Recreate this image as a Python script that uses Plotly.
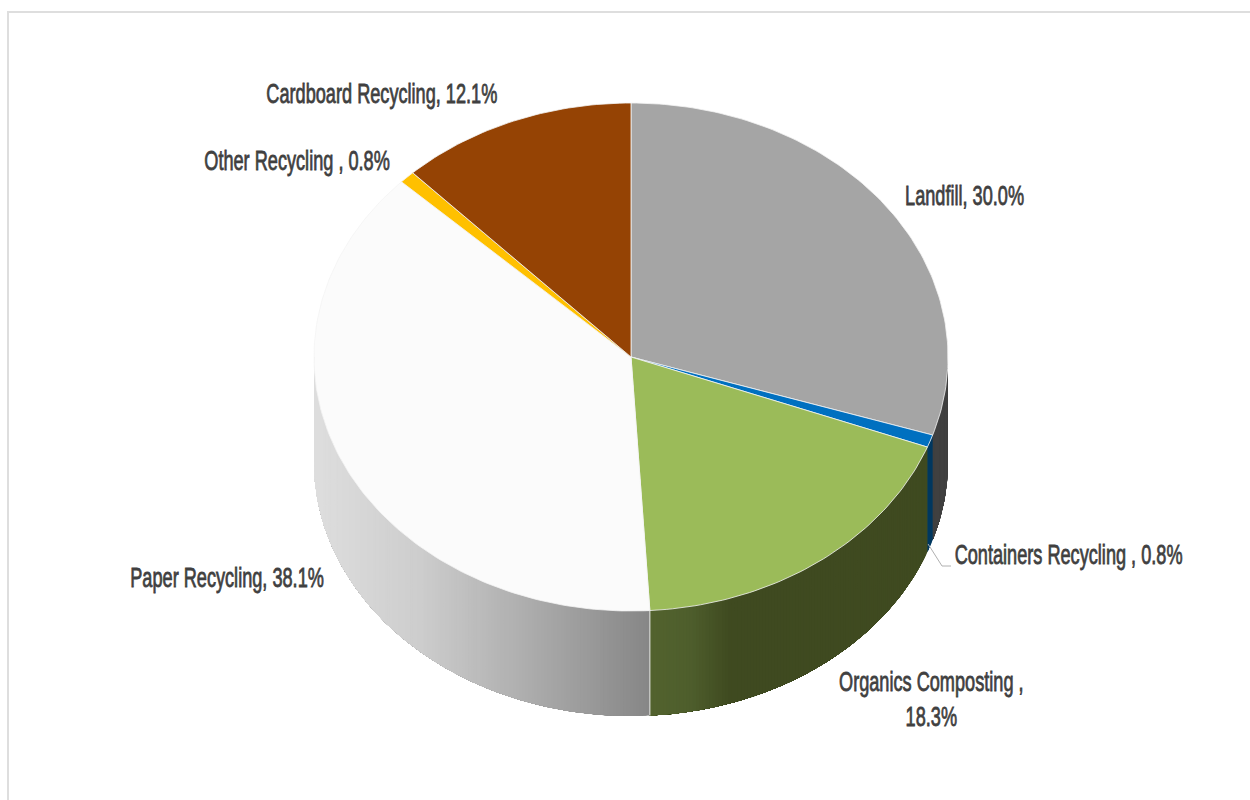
import numpy as np
import plotly.graph_objects as go

# --- chart data ---
categories = ["Landfill", "Containers Recycling", "Organics Composting", "Paper Recycling", "Other Recycling", "Cardboard Recycling"]
shares = [30.0, 0.8, 18.3, 38.1, 0.8, 12.1]
label_texts = ["Landfill, 30.0%", "Containers Recycling , 0.8%", "Organics Composting ,<br>18.3%",
               "Paper Recycling, 38.1%", "Other Recycling , 0.8%", "Cardboard Recycling, 12.1%"]
top_colors = ["#a5a5a5", "#0070c0", "#9bbb59", "#fbfbfb", "#ffc000", "#954304"]

# --- styling / projection ---
CX, CY, RX, RY, DEPTH = 631.0, 357.0, 317.0, 254.0, 105.0
label_pos = [(964, 196), (1068, 555), (931, 699), (227, 578), (297, 161), (382, 94)]
TEXT_COLOR = "#404040"
FONT = "Liberation Sans, Arial, sans-serif"


def px(theta):
    return CX + RX * np.sin(theta)


def py(theta, drop=0.0):
    return CY - RY * np.cos(theta) + drop


def lerp(stops, x):
    xs = [s[0] for s in stops]
    rgb = [np.interp(x, xs, [s[1][i] for s in stops]) for i in range(3)]
    return "rgb(%d,%d,%d)" % tuple(int(round(v)) for v in rgb)


side_stops = {
    "Landfill": [(0, (64, 64, 64)), (2000, (64, 64, 64))],
    "Containers Recycling": [(0, (0, 56, 96)), (2000, (0, 56, 96))],
    "Organics Composting": [(651, (82, 98, 46)), (690, (78, 94, 44)), (730, (63, 74, 32)), (2000, (63, 74, 32))],
    "Paper Recycling": [(314, (222, 222, 222)), (420, (205, 205, 205)), (520, (175, 175, 175)), (651, (134, 134, 134))],
}

fractions = np.array(shares) / sum(shares)
ends = np.cumsum(fractions) * 2 * np.pi
starts = ends - fractions * 2 * np.pi

fig = go.Figure()

# visible wall of the cylinder; each band runs to the slice end and the next one paints over it
for name, a0, a1 in zip(categories, starts, ends):
    lo, hi = max(a0, np.pi / 2), min(a1, 3 * np.pi / 2)
    if hi <= lo or name not in side_stops:
        continue
    n = max(2, int(np.degrees(hi - lo) / 0.6))
    edges = np.linspace(lo, hi, n + 1)
    for t0 in edges[:-1]:
        tt = np.linspace(t0, hi, max(4, int(np.degrees(hi - t0)) + 2))
        xs = np.concatenate([px(tt), px(tt[::-1])])
        ys = np.concatenate([py(tt), py(tt[::-1], DEPTH)])
        col = lerp(side_stops[name], float(px(t0 + (hi - lo) / n / 2)))
        fig.add_trace(go.Scatter(x=xs, y=ys, mode="lines", fill="toself", fillcolor=col,
                                 line=dict(width=0), hoverinfo="skip", showlegend=False))

# light seam between Paper and Organics walls
seam = ends[2]
fig.add_trace(go.Scatter(x=[px(seam), px(seam)], y=[py(seam), py(seam, DEPTH)], mode="lines",
                         line=dict(color="#e8e8e8", width=1), hoverinfo="skip", showlegend=False))

# top face
for name, a0, a1, col in zip(categories, starts, ends, top_colors):
    tt = np.linspace(a0, a1, max(3, int(np.degrees(a1 - a0))))
    xs = np.concatenate([[CX], px(tt), [CX]])
    ys = np.concatenate([[CY], py(tt), [CY]])
    fig.add_trace(go.Scatter(x=xs, y=ys, mode="lines", fill="toself", fillcolor=col,
                             line=dict(color="#f4f4f4", width=0.8), hoverinfo="skip", showlegend=False, name=name))

# leader line for the Containers label
mid = (starts[1] + ends[1]) / 2
fig.add_trace(go.Scatter(x=[px(mid) - 2, 942, 951], y=[py(mid, DEPTH) - 2, 566, 566], mode="lines",
                         line=dict(color="#b0b0b0", width=1), hoverinfo="skip", showlegend=False))

for text, (lx, ly) in zip(label_texts, label_pos):
    fig.add_annotation(x=lx, y=ly, text=text, showarrow=False, xanchor="center", yanchor="middle",
                       font=dict(family=FONT, size=27, color=TEXT_COLOR), align="center")

# outer frame seen at the top and left edges of the picture
fig.add_shape(type="rect", x0=8, y0=12, x1=1300, y1=900, line=dict(color="#dedede", width=2), layer="below")

fig.update_layout(
    width=1250, height=800, autosize=False,
    margin=dict(l=0, r=0, t=0, b=0),
    paper_bgcolor="white", plot_bgcolor="white", showlegend=False,
    xaxis=dict(range=[0, 1250], visible=False, fixedrange=True),
    yaxis=dict(range=[800, 0], visible=False, fixedrange=True),
)

# page without its default margin; label text condensed horizontally like the reference's narrow face
POST = """
document.body.style.margin = '0';
document.body.style.overflow = 'hidden';
document.querySelectorAll('.annotation-text').forEach(function (t) {
  var b = t.getBBox(), c = b.x + b.width / 2, s = 0.672;
  var prior = t.getAttribute('transform') || '';
  t.setAttribute('transform', prior + ' translate(' + c + ',0) scale(' + s + ',1) translate(' + (-c) + ',0)');
  t.style.stroke = '#404040';
  t.style.strokeWidth = '0.8px';
});
"""
fig.write_html("out.html", config={"displayModeBar": False}, post_script=POST)
